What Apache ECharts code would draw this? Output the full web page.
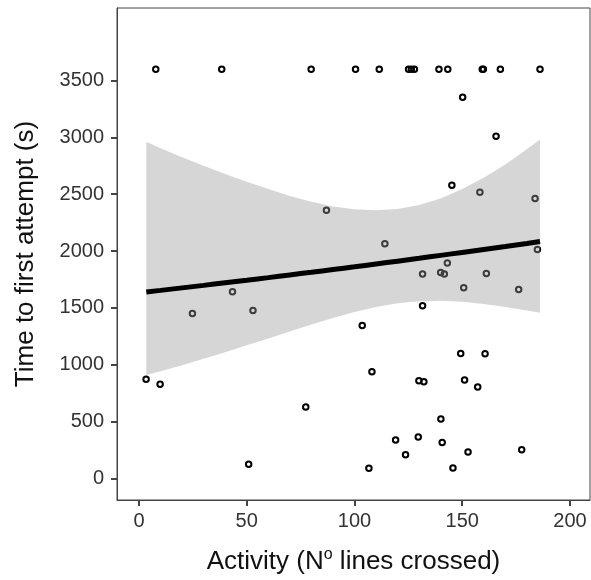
<!DOCTYPE html>
<html><head><meta charset="utf-8">
<script src="https://cdn.jsdelivr.net/npm/echarts@6/dist/echarts.min.js"></script>
<style>html,body{margin:0;padding:0;background:#fff}#c{width:591px;height:580px}</style>
</head><body><div id="c"></div>
<script>
// Observed points
const activity = [7.8, 38.4, 79.9, 100.5, 111.5, 125.1, 126.4, 127.8, 139.2, 143.3, 159.3, 159.8, 167.7, 186.1,
  87.0, 150.2, 165.7, 145.2, 158.2, 183.8, 114.1,
  43.4, 24.8, 52.9, 3.3, 9.8, 77.4, 50.9,
  184.9, 143.1, 131.6, 140.0, 141.7, 161.2, 150.7, 176.2, 131.6, 103.6,
  149.3, 160.6, 108.1, 129.9, 132.2, 151.1, 157.2,
  140.1, 119.1, 129.6, 140.7, 123.7, 152.7, 177.6, 106.7, 145.7];
const timeToAttempt = [3600, 3600, 3600, 3600, 3600, 3600, 3600, 3600, 3600, 3600, 3600, 3600, 3600, 3600,
  2359, 3353, 3010, 2579, 2518, 2462, 2064,
  1642, 1451, 1477, 871, 827, 627, 123,
  2014, 1894, 1797, 1812, 1797, 1803, 1677, 1662, 1519, 1345,
  1099, 1096, 938, 859, 850, 865, 803,
  522, 337, 364, 314, 208, 232, 252, 88, 91];

// Fitted line and confidence band
const fitX = [3.4, 10, 20, 30, 40, 50, 60, 70, 80, 90, 100, 110, 120, 130, 140, 150, 160, 170, 180, 186.1];
const fitY = [1640, 1654, 1676, 1698, 1721, 1743, 1766, 1790, 1813, 1837, 1861, 1886, 1911, 1936, 1962, 1988, 2014, 2040, 2067, 2084];
const ciUpper = [2962, 2905, 2825, 2750, 2678, 2610, 2545, 2485, 2433, 2393, 2367, 2358, 2370, 2405, 2463, 2545, 2645, 2762, 2895, 2981];
const ciLower = [910, 943, 996, 1052, 1110, 1170, 1231, 1292, 1353, 1411, 1464, 1508, 1541, 1559, 1562, 1553, 1534, 1508, 1477, 1457];

const xTicks = [0, 50, 100, 150, 200];
const yTicks = [0, 500, 1000, 1500, 2000, 2500, 3000, 3500];

const chart = echarts.init(document.getElementById('c'), null, {renderer: 'canvas'});
const FONT = 'Liberation Sans, Arial, sans-serif';
const axisCol = '#444';
chart.setOption({
  animation: false,
  backgroundColor: '#fff',
  grid: {left: 117, right: 1, top: 8, bottom: 79, show: true, borderColor: axisCol, borderWidth: 1, containLabel: false},
  xAxis: {
    type: 'value', min: -10.2, max: 209.3,
    splitLine: {show: false},
    axisLine: {show: true, onZero: false, lineStyle: {color: axisCol, width: 1}},
    axisTick: {show: true, length: 6, lineStyle: {color: axisCol, width: 2}, customValues: xTicks},
    axisLabel: {customValues: xTicks, fontSize: 20, color: '#333', fontFamily: FONT, margin: 11,
      formatter: v => String(v)},
    name: 'Activity (N{sup|o} lines crossed)',
    nameLocation: 'middle', nameGap: 47,
    nameTextStyle: {fontSize: 26, color: '#111', fontFamily: FONT,
      rich: {sup: {fontSize: 16, color: '#111', fontFamily: FONT, verticalAlign: 'top', padding: [0, 0, 14, 0]}}}
  },
  yAxis: {
    type: 'value', min: -191, max: 4139,
    splitLine: {show: false},
    axisLine: {show: true, onZero: false, lineStyle: {color: axisCol, width: 1}},
    axisTick: {show: true, length: 6, lineStyle: {color: axisCol, width: 2}, customValues: yTicks},
    axisLabel: {customValues: yTicks, fontSize: 20, color: '#333', fontFamily: FONT, margin: 13,
      formatter: v => String(v)},
    name: 'Time to first attempt (s)',
    nameLocation: 'middle', nameGap: 78, nameRotate: 90,
    nameTextStyle: {fontSize: 26, color: '#111', fontFamily: FONT}
  },
  series: [
    {
      type: 'scatter', z: 2,
      data: activity.map((x, i) => [x, timeToAttempt[i]]),
      symbol: 'circle', symbolSize: 5.5,
      itemStyle: {color: 'rgba(0,0,0,0)', borderColor: '#000', borderWidth: 2, opacity: 1},
      emphasis: {disabled: true}
    },
    {
      type: 'custom', z: 3,
      data: fitX.map((x, i) => [x, ciLower[i], ciUpper[i]]),
      encode: {x: 0, y: [1, 2]},
      renderItem: function (params, api) {
        if (params.dataIndex !== 0) return null;
        const up = fitX.map((x, i) => api.coord([x, ciUpper[i]]));
        const lo = fitX.map((x, i) => api.coord([x, ciLower[i]])).reverse();
        return {type: 'polygon', shape: {points: up.concat(lo)}, style: {fill: 'rgba(153,153,153,0.4)'}};
      },
      silent: true
    },
    {
      type: 'line', z: 4,
      data: fitX.map((x, i) => [x, fitY[i]]),
      showSymbol: false, symbol: 'none', smooth: true,
      lineStyle: {color: '#000', width: 5},
      silent: true
    }
  ]
});
</script>
</body></html>
